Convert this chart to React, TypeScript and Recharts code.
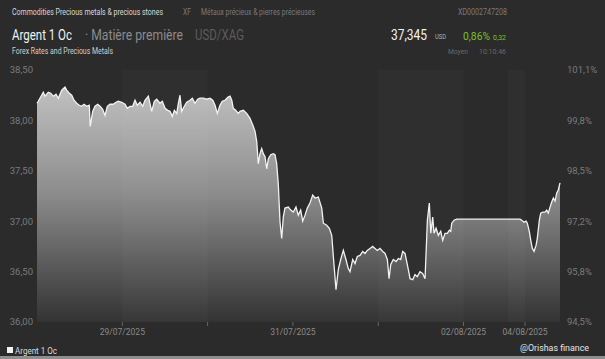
import React from "react";
import {
    AreaChart,
    Area,
    XAxis,
    YAxis,
    ReferenceArea,
} from "recharts";

// time in trading-day units (28/07 = 0), silver price in USD
const TIMES = [
    0, 0.015, 0.074, 0.094, 0.132, 0.161, 0.191, 0.223, 0.25, 0.29, 0.328, 0.348, 0.379, 0.407,
    0.434, 0.465, 0.496, 0.524, 0.551, 0.583, 0.613, 0.624, 0.653, 0.68, 0.712, 0.739, 0.77,
    0.797, 0.824, 0.856, 0.894, 0.926, 0.953, 0.993, 1.032, 1.059, 1.09, 1.122, 1.149, 1.176,
    1.208, 1.239, 1.266, 1.305, 1.345, 1.375, 1.403, 1.442, 1.469, 1.501, 1.532, 1.559, 1.586,
    1.61, 1.638, 1.657, 1.676, 1.696, 1.727, 1.755, 1.794, 1.821, 1.852, 1.884, 1.911, 1.95,
    1.989, 2.028, 2.06, 2.087, 2.114, 2.145, 2.172, 2.204, 2.236, 2.263, 2.283, 2.301, 2.329,
    2.36, 2.38, 2.419, 2.458, 2.497, 2.536, 2.556, 2.576, 2.594, 2.614, 2.634, 2.653, 2.673,
    2.693, 2.712, 2.74, 2.77, 2.79, 2.81, 2.829, 2.849, 2.869, 2.887, 2.907, 2.946, 2.974,
    3.005, 3.036, 3.063, 3.091, 3.115, 3.142, 3.169, 3.2, 3.232, 3.259, 3.298, 3.338, 3.357,
    3.396, 3.427, 3.455, 3.474, 3.505, 3.532, 3.56, 3.591, 3.622, 3.649, 3.669, 3.701, 3.728,
    3.755, 3.787, 3.818, 3.845, 3.872, 3.904, 3.935, 3.962, 3.989, 4.021, 4.053, 4.08, 4.107,
    4.127, 4.147, 4.177, 4.209, 4.236, 4.264, 4.287, 4.314, 4.334, 4.353, 4.373, 4.405, 4.431,
    4.458, 4.49, 4.522, 4.549, 4.569, 4.576, 4.599, 4.616, 4.639, 4.654, 4.678, 4.705, 4.733,
    4.756, 4.783, 4.81, 4.834, 4.85, 4.862, 4.889, 4.92, 5.662, 5.682, 5.709, 5.733, 5.748,
    5.771, 5.788, 5.807, 5.827, 5.85, 5.865, 5.889, 5.905, 5.928, 5.955, 5.975, 5.994, 6.014,
    6.034, 6.053, 6.073, 6.093, 6.111, 6.131,
];

const PRICES = [
    38.17, 38.19, 38.28, 38.24, 38.28, 38.27, 38.24, 38.26, 38.22, 38.3, 38.33, 38.3, 38.27,
    38.25, 38.2, 38.17, 38.15, 38.14, 38.16, 38.14, 38.15, 37.94, 38.09, 38.14, 38.16, 38.14,
    38.11, 38.05, 38.14, 38.16, 38.16, 38.18, 38.19, 38.18, 38.16, 38.12, 38.14, 38.14, 38.2,
    38.15, 38.18, 38.14, 38.2, 38.24, 38.09, 38.19, 38.21, 38.17, 38.19, 38.12, 38.1, 38.09,
    38.04, 38.1, 38.07, 38.17, 38.25, 38.09, 38.14, 38.18, 38.2, 38.22, 38.17, 38.21, 38.22,
    38.22, 38.21, 38.22, 38.2, 38.15, 38.07, 38.15, 38.19, 38.2, 38.23, 38.24, 38.2, 38.12,
    38.1, 38.07, 38.09, 38.1, 38.07, 38.02, 37.94, 37.89, 37.79, 37.57, 37.67, 37.72, 37.67,
    37.64, 37.52, 37.62, 37.66, 37.67, 37.66, 37.57, 37.36, 36.99, 36.83, 37.04, 37.13, 37.14,
    37.11, 37.09, 37.14, 37.06, 37.11, 37.0, 37.06, 37.13, 37.18, 37.26, 37.23, 37.24, 37.13,
    36.98, 36.96, 36.93, 36.86, 36.65, 36.32, 36.52, 36.62, 36.71, 36.62, 36.53, 36.5, 36.62,
    36.58, 36.65, 36.66, 36.7, 36.68, 36.71, 36.73, 36.75, 36.73, 36.71, 36.73, 36.7, 36.68,
    36.62, 36.43, 36.57, 36.62, 36.6, 36.63, 36.62, 36.7, 36.68, 36.6, 36.52, 36.43, 36.42,
    36.47, 36.45, 36.5, 36.48, 36.43, 36.85, 37.01, 37.18, 36.88, 37.04, 36.88, 36.93, 36.86,
    36.9, 36.81, 36.88, 36.88, 36.91, 36.9, 36.98, 37.01, 37.02, 37.02, 37.01, 36.99, 37.0,
    36.98, 36.9, 36.81, 36.73, 36.7, 36.76, 36.83, 37.01, 37.08, 37.09, 37.09, 37.11, 37.08,
    37.14, 37.19, 37.23, 37.2, 37.28, 37.31, 37.38,
];

const X_TICKS = [1, 2, 3, 4, 5, 5.721];
const X_TICK_LABELS = ["29/07/2025", "", "31/07/2025", "", "02/08/2025", "04/08/2025"];
const Y_TICKS = [36, 36.5, 37, 37.5, 38, 38.5];
const PCT_LABELS = ["94,5%", "95,8%", "97,2%", "98,5%", "99,8%", "101,1%"];
// lighter day bands [start, end]
const BANDS = [
    [1, 2],
    [4, 5],
    [5.522, 5.721],
];

const data = TIMES.map((t, i) => ({ t, price: PRICES[i] }));

const BG = "#2b2b2b";
const FONT = "Roboto, 'Noto Sans', sans-serif";

const xLabel = (v: number) => {
    const i = X_TICKS.indexOf(v);
    return i >= 0 ? X_TICK_LABELS[i] : "";
};
const yLabel = (v: number) => v.toFixed(2).replace(".", ",");
const pctLabel = (v: number) => {
    const i = Y_TICKS.indexOf(v);
    return i >= 0 ? PCT_LABELS[i] : "";
};

// header / footer texts: [text, x, baseline y, width, size, colour]
type Label = [string, number, number, number, number, string];
const LABELS: Label[] = [
    ["Commodities Precious metals & precious stones", 12, 15, 151, 8.5, "#d8d8d8"],
    ["XF", 183, 15, 8, 8.5, "#7a7a7a"],
    ["Métaux précieux & pierres précieuses", 201, 15, 114, 8.5, "#7a7a7a"],
    ["XD0002747208", 458, 15, 49, 8.5, "#7a7a7a"],
    ["Argent 1 Oc", 12, 40, 60, 14, "#f2f2f2"],
    ["· Matière première", 85, 40, 98, 14, "#8c8c8c"],
    ["USD/XAG", 195, 40, 49, 14, "#5c5c5c"],
    ["37,345", 391, 40, 36, 14, "#f2f2f2"],
    ["USD", 435, 39, 11, 7.5, "#b0b0b0"],
    ["0,86%", 463, 39.5, 27, 11.5, "#7cc22a"],
    ["0,32", 493, 39.5, 13, 7.5, "#7cc22a"],
    ["Forex Rates and Precious Metals", 12, 54, 101, 8.5, "#d0d0d0"],
    ["Moyen", 448, 54, 20, 8, "#6a6a6a"],
    ["10:10:46", 479, 54, 27, 8, "#6a6a6a"],
    ["Argent 1 Oc", 15, 354, 42, 9, "#dcdcdc"],
    ["@Orishas finance", 520, 350.5, 69, 9.5, "#e6e6e6"],
];

export default function App() {
    return (
        <div
            style={{
                position: "absolute",
                left: 0,
                top: 0,
                width: 605,
                height: 359,
                background: BG,
                fontFamily: FONT,
                overflow: "hidden",
            }}
        >
            <AreaChart
                width={605}
                height={359}
                data={data}
                margin={{ top: 70, right: 0, bottom: 0, left: 0 }}
            >
                <defs>
                    <linearGradient id="silverFill" gradientUnits="userSpaceOnUse" x1="0" y1="88" x2="0" y2="322">
                        <stop offset="0%" stopColor="#c0c0c0" />
                        <stop offset="45%" stopColor="#8c8c8c" />
                        <stop offset="100%" stopColor="#333333" />
                    </linearGradient>
                </defs>
                <XAxis
                    dataKey="t"
                    type="number"
                    domain={[0, 6.131]}
                    ticks={X_TICKS}
                    tickFormatter={xLabel}
                    height={37}
                    axisLine={false}
                    tickLine={{ stroke: "#666" }}
                    tickSize={4}
                    tickMargin={3}
                    tick={{ fill: "#8a8a8a", fontSize: 8.5 }}
                />
                <YAxis
                    yAxisId="price"
                    domain={[36, 38.5]}
                    ticks={Y_TICKS}
                    tickFormatter={yLabel}
                    width={37}
                    axisLine={false}
                    tickLine={false}
                    tickSize={0}
                    tickMargin={4}
                    tick={{ fill: "#7a7a7a", fontSize: 9.5 }}
                />
                <YAxis
                    yAxisId="pct"
                    orientation="right"
                    domain={[36, 38.5]}
                    ticks={Y_TICKS}
                    tickFormatter={pctLabel}
                    width={45}
                    axisLine={false}
                    tickLine={false}
                    tickSize={0}
                    tickMargin={7}
                    tick={{ fill: "#7a7a7a", fontSize: 9.5, textAnchor: "start" }}
                />
                <Area
                    yAxisId="price"
                    type="linear"
                    dataKey="price"
                    stroke="#f2f2f2"
                    strokeWidth={1.3}
                    fill="url(#silverFill)"
                    fillOpacity={1}
                    baseValue={36}
                    dot={false}
                    activeDot={false}
                    isAnimationActive={false}
                />
                <Area
                    yAxisId="pct"
                    type="linear"
                    dataKey="price"
                    stroke="none"
                    fill="none"
                    dot={false}
                    activeDot={false}
                    isAnimationActive={false}
                />
                {BANDS.map(([a, b]) => (
                    <ReferenceArea
                        key={a}
                        yAxisId="price"
                        x1={a}
                        x2={b}
                        y1={36}
                        y2={38.5}
                        fill="#ffffff"
                        fillOpacity={0.022}
                        stroke="none"
                    />
                ))}
            </AreaChart>

            <svg
                width={605}
                height={359}
                style={{ position: "absolute", left: 0, top: 0, pointerEvents: "none" }}
            >
                {LABELS.map(([text, x, y, w, size, color], i) => (
                    <text
                        key={i}
                        x={x}
                        y={y}
                        textLength={w}
                        lengthAdjust="spacingAndGlyphs"
                        fontSize={size}
                        fill={color}
                        fontFamily={FONT}
                    >
                        {text}
                    </text>
                ))}
                <rect x={7} y={347} width={6} height={6} fill="#f2f2f2" />
                <rect x={0} y={356} width={605} height={3} fill="#8e8e8e" />
            </svg>
        </div>
    );
}
